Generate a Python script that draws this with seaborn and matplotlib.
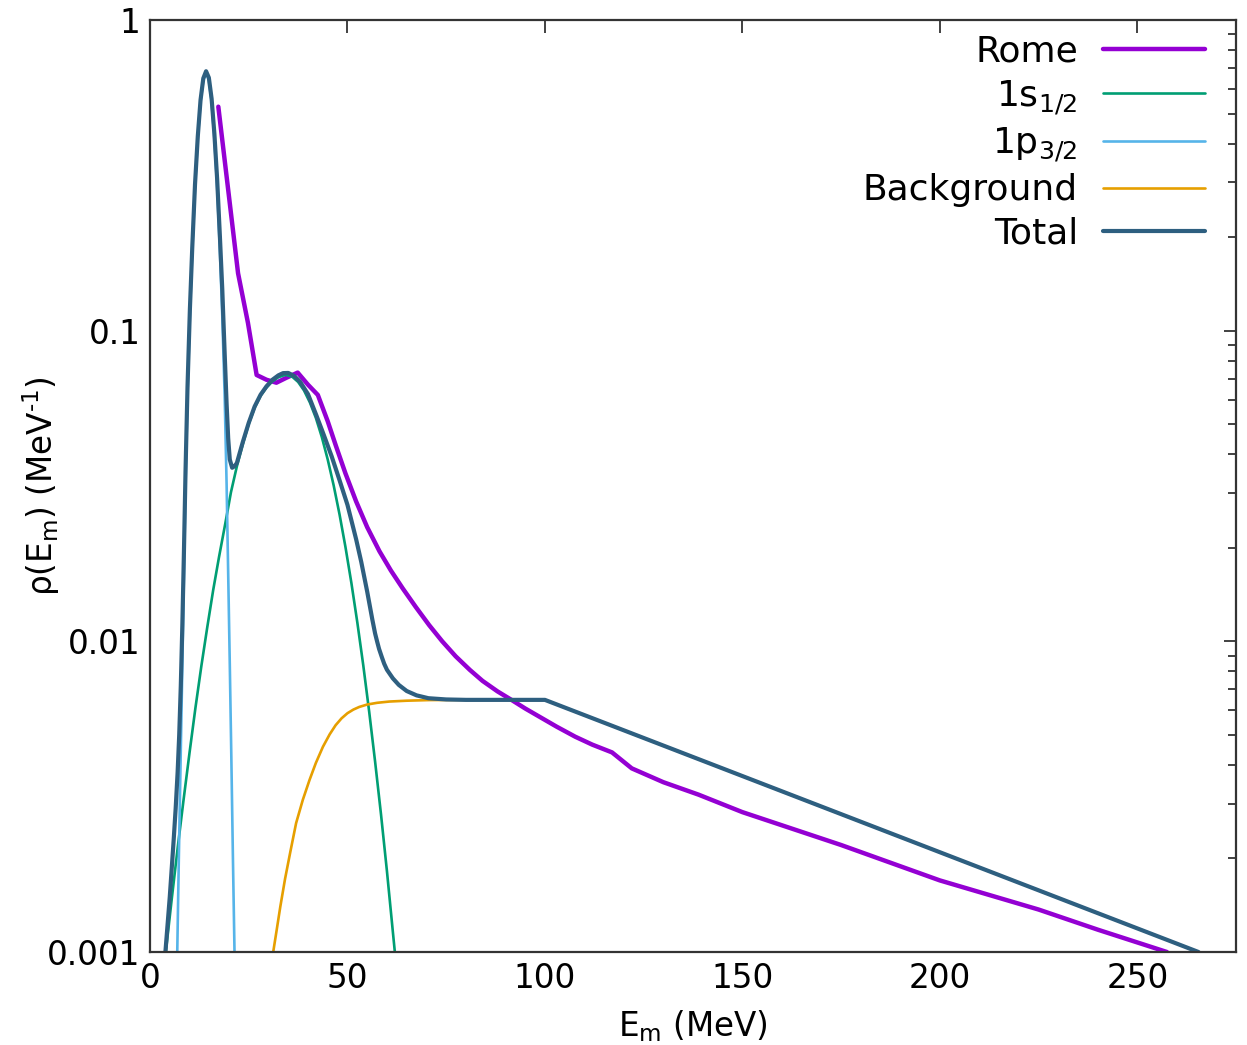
import matplotlib
matplotlib.use("Agg")
import matplotlib.pyplot as plt
import matplotlib.ticker as mticker
import seaborn as sns
import pandas as pd

# ---------------- data ----------------
rome_x = [17.3, 19.8, 22.3, 24.8, 27.0, 29.5, 32.0, 34.5, 37.4, 40.0, 42.5, 45.0,
          47.1, 49.5, 52.2, 55.0, 58.1, 61.0, 64.0, 67.3, 70.7, 74.0, 77.4, 81.0,
          84.2, 88.0, 91.7, 95.0, 98.5, 103.0, 107.7, 112.0, 117.0, 122.0, 130.0,
          138.9, 150.0, 175.0, 200.0, 225.0, 240.0, 257.5]
rome_y = [0.526, 0.284, 0.153, 0.106, 0.072, 0.0695, 0.068, 0.0705, 0.0733, 0.067,
          0.0621, 0.0511, 0.0425, 0.0347, 0.0282, 0.0233, 0.0195, 0.0169, 0.0148,
          0.0129, 0.01127, 0.0100, 0.00895, 0.00809, 0.00746, 0.0069, 0.00646,
          0.00608, 0.00573, 0.00531, 0.00493, 0.00465, 0.00439, 0.0039, 0.00352,
          0.00321, 0.00282, 0.00221, 0.0017, 0.00137, 0.00118, 0.001]

s12_x = [4.0, 5.5, 7.0, 8.5, 10.0, 11.5, 13.0, 14.5, 16.0, 17.5, 19.0, 20.5, 22.0,
         23.5, 25.0, 26.5, 28.0, 29.5, 31.0, 32.5, 34.0, 34.5, 36.0, 37.5, 39.0,
         40.5, 42.0, 43.5, 45.0, 46.5, 48.0, 49.5, 51.0, 52.5, 54.0, 55.5, 57.0,
         58.5, 60.0, 61.5, 62.0]
s12_y = [0.001, 0.00148, 0.00216, 0.00309, 0.00437, 0.0061, 0.00832, 0.0111,
         0.01462, 0.01875, 0.0237, 0.0302, 0.0366, 0.0431, 0.0501, 0.0565, 0.0617,
         0.0656, 0.0687, 0.0708, 0.0719, 0.072, 0.0711, 0.0684, 0.0642, 0.0587,
         0.0524, 0.0455, 0.0385, 0.0318, 0.0256, 0.0201, 0.0154, 0.0115, 0.00838,
         0.00594, 0.0041, 0.00277, 0.00182, 0.00116, 0.001]

p32_x = [6.9, 7.3, 7.7, 8.2, 8.6, 9.0, 9.5, 10.1, 10.7, 11.4, 12.1, 12.8, 13.5,
         14.2, 14.9, 15.6, 16.3, 17.0, 17.7, 18.3, 18.9, 19.4, 19.8, 20.2, 20.6,
         21.0, 21.4]
p32_y = [0.001, 0.002, 0.0038, 0.0085, 0.0165, 0.032, 0.062, 0.112, 0.18, 0.29,
         0.415, 0.545, 0.64, 0.674, 0.64, 0.545, 0.415, 0.29, 0.18, 0.112, 0.062,
         0.032, 0.0165, 0.0085, 0.0042, 0.002, 0.001]

bg_x = [31.2, 32.0, 33.0, 34.2, 35.5, 37.0, 38.7, 40.4, 42.0, 43.8, 45.5, 47.0,
        48.5, 50.0, 51.5, 53.0, 55.0, 57.5, 60.6, 65.0, 70.7, 80.0, 100.0, 265.5]
bg_y = [0.001, 0.00116, 0.0014, 0.00172, 0.00209, 0.0026, 0.00309, 0.00358,
        0.00406, 0.00458, 0.00502, 0.00537, 0.00565, 0.00587, 0.00603, 0.00615,
        0.00626, 0.00634, 0.0064, 0.00644, 0.00647, 0.00648, 0.00648, 0.001]

tot_x = [3.9, 5.0, 6.0, 6.5, 7.0, 7.4, 7.8, 8.2, 8.6, 9.0, 9.5, 10.1, 10.7, 11.4,
         12.1, 12.8, 13.5, 14.2, 14.9, 15.6, 16.3, 17.0, 17.7, 18.3, 18.9, 19.4,
         19.8, 20.2, 20.8, 21.4, 22.0, 23.5, 25.0, 26.5, 28.0, 29.5, 31.0, 32.5,
         33.7, 35.0, 36.5, 38.0, 40.0, 42.1, 44.0, 46.0, 48.0, 50.0, 51.0, 52.2,
         53.5, 55.0, 56.3, 57.0, 57.5, 58.0, 58.7, 59.3, 60.0, 61.5, 63.0, 65.0,
         67.5, 70.5, 75.0, 80.0, 100.0, 265.5]
tot_y = [0.001, 0.0015, 0.0023, 0.0029, 0.0038, 0.005, 0.0072, 0.0114, 0.0196,
         0.0355, 0.066, 0.117, 0.185, 0.296, 0.422, 0.553, 0.649, 0.684, 0.652,
         0.558, 0.431, 0.308, 0.201, 0.136, 0.085, 0.058, 0.045, 0.0385, 0.0362,
         0.0366, 0.0375, 0.0438, 0.0505, 0.0570, 0.0622, 0.0662, 0.0695, 0.0718,
         0.0730, 0.0731, 0.0715, 0.0685, 0.0625, 0.0535, 0.0462, 0.0394, 0.0330,
         0.0275, 0.0245, 0.0213, 0.0180, 0.01445, 0.01175, 0.0106, 0.0100, 0.00946,
         0.0089, 0.00847, 0.0081, 0.0076, 0.00724, 0.00692, 0.0067, 0.00656,
         0.0065, 0.00648, 0.00648, 0.001]

labels = ["Rome", r"1s$_{1/2}$", r"1p$_{3/2}$", "Background", "Total"]
colors = ["#9400d3", "#009e73", "#56b4e9", "#e69f00", "#2e5f80"]
widths = [3.2, 1.9, 1.9, 1.9, 3.0]

series = [(rome_x, rome_y), (s12_x, s12_y), (p32_x, p32_y), (bg_x, bg_y), (tot_x, tot_y)]

# ---------------- figure ----------------
sns.set_theme(style="white")
plt.rcParams["font.family"] = ["DejaVu Sans"]
plt.rcParams["mathtext.fontset"] = "dejavusans"
plt.rcParams["text.color"] = "black"
plt.rcParams["axes.labelcolor"] = "black"

fig = plt.figure(figsize=(12.47, 10.45), dpi=100)
ax = fig.add_axes([150 / 1247, 1 - 952 / 1045, (1236 - 150) / 1247, (952 - 20) / 1045])

for (xs, ys), lab, col, lw in zip(series, labels, colors, widths):
    df = pd.DataFrame({"x": xs, "y": ys})
    sns.lineplot(data=df, x="x", y="y", ax=ax, color=col, lw=lw, label=lab,
                 sort=False, estimator=None)

ax.set_yscale("log")
ax.set_xlim(0, 275)
ax.set_ylim(0.001, 1)
ax.set_xticks([0, 50, 100, 150, 200, 250])
ax.yaxis.set_major_locator(mticker.FixedLocator([0.001, 0.01, 0.1, 1]))
ax.yaxis.set_major_formatter(mticker.FixedFormatter(["0.001", "0.01", "0.1", "1"]))
ax.yaxis.set_minor_locator(mticker.LogLocator(base=10, subs=range(2, 10)))
ax.yaxis.set_minor_formatter(mticker.NullFormatter())
ax.xaxis.set_minor_locator(mticker.NullLocator())

ax.tick_params(axis="both", which="both", direction="in", top=True, right=True,
               colors="#333333", labelcolor="black", labelsize=23.5, width=1.3)
ax.tick_params(axis="both", which="major", length=9, pad=7)
ax.tick_params(axis="y", which="minor", length=5.5)
for sp in ax.spines.values():
    sp.set_color("#333333")
    sp.set_linewidth(1.6)

ax.set_xlabel(r"E$_\mathrm{m}$ (MeV)", fontsize=23.5, labelpad=10, color="black")
ax.set_ylabel(r"ρ(E$_\mathrm{m}$) (MeV$^{\text{-1}}$)", fontsize=23.5, color="black")
ax.yaxis.set_label_coords((62 - 150) / 1086, 0.5)

leg = ax.legend(loc="upper right", bbox_to_anchor=(0.9715, 0.984), frameon=False,
                markerfirst=False, fontsize=26, handlelength=2.83, handletextpad=0.69,
                labelspacing=0.26, borderaxespad=0, borderpad=0)
for t in leg.get_texts():
    t.set_color("black")

fig.savefig("out.png", dpi=100, facecolor="white")
